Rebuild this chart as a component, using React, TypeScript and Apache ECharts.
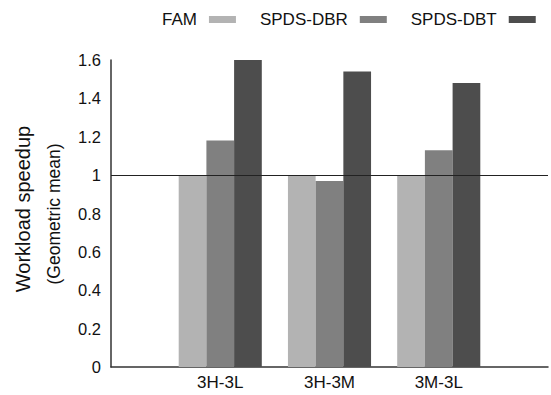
import React, { useEffect, useRef } from "react";
import * as echarts from "echarts";

const categories = ["", "3H-3L", "3H-3M", "3M-3L", ""];
const seriesNames = ["FAM", "SPDS-DBR", "SPDS-DBT"];
const famValues: (number | string)[] = ["-", 1.0, 1.0, 1.0, "-"];
const dbrValues: (number | string)[] = ["-", 1.18, 0.97, 1.13, "-"];
const dbtValues: (number | string)[] = ["-", 1.6, 1.54, 1.48, "-"];
const colors = ["#b3b3b3", "#808080", "#4d4d4d"];
const yTicks = { min: 0, max: 1.6, interval: 0.2 };
const baseline = 1;

const FONT = "Liberation Sans, Arial, Helvetica, sans-serif";

export default function App() {
  const ref = useRef<HTMLDivElement>(null);
  useEffect(() => {
    if (!ref.current) return;
    const chart = echarts.init(ref.current, undefined, { renderer: "svg" });
    const data = [famValues, dbrValues, dbtValues];
    chart.setOption({
      animation: false,
      textStyle: { fontFamily: FONT },
      legend: {
        left: 157,
        top: 6,
        width: 500,
        orient: "horizontal",
        align: "right",
        icon: "rect",
        itemWidth: 27,
        itemHeight: 7,
        itemGap: 24,
        textStyle: { fontSize: 17, color: "#111", fontFamily: FONT, padding: [0, 7, 0, 0] },
        data: seriesNames,
      },
      grid: { left: 111, right: 2, top: 60, bottom: 28 },
      xAxis: {
        type: "category",
        data: categories,
        boundaryGap: false,
        axisLine: { lineStyle: { color: "#333", width: 1.5 } },
        axisTick: { show: false },
        axisLabel: { fontSize: 17, color: "#111", margin: 7, fontFamily: FONT },
        splitLine: { show: false },
      },
      yAxis: {
        type: "value",
        min: yTicks.min,
        max: yTicks.max,
        interval: yTicks.interval,
        axisLine: { show: true, lineStyle: { color: "#333", width: 1.5 } },
        axisTick: { show: false },
        splitLine: { show: false },
        axisLabel: { fontSize: 16.5, color: "#111", margin: 10, fontFamily: FONT },
      },
      graphic: [
        {
          type: "text",
          x: 23,
          y: 209,
          rotation: Math.PI / 2,
          style: {
            text: "Workload speedup",
            fontSize: 20,
            fontFamily: FONT,
            fill: "#111",
            align: "center",
            verticalAlign: "middle",
          },
        },
        {
          type: "text",
          x: 54,
          y: 214,
          rotation: Math.PI / 2,
          style: {
            text: "(Geometric mean)",
            fontSize: 17.5,
            fontFamily: FONT,
            fill: "#111",
            align: "center",
            verticalAlign: "middle",
          },
        },
      ],
      series: seriesNames.map((name, i) => ({
        name,
        type: "bar",
        data: data[i],
        barWidth: 27.7,
        barGap: "0%",
        itemStyle: { color: colors[i] },
        ...(i === 2
          ? {
              markLine: {
                silent: true,
                symbol: "none",
                z: 10,
                label: { show: false },
                lineStyle: { color: "#222", width: 1, type: "solid" },
                data: [{ yAxis: baseline }],
              },
            }
          : {}),
      })),
    });
    return () => chart.dispose();
  }, []);
  return <div ref={ref} style={{ width: 551, height: 395, position: "absolute", left: 0, top: 0 }} />;
}
